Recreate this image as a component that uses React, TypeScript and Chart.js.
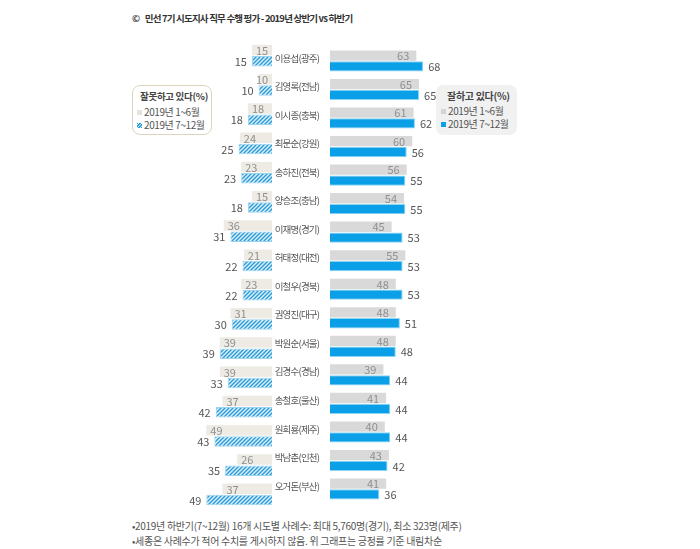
import React, { useEffect, useRef } from "react";
import { Chart, registerables } from "chart.js";

Chart.register(...registerables);

const names = [
  "이용섭(광주)", "김영록(전남)", "이시종(충북)", "최문순(강원)", "송하진(전북)", "양승조(충남)",
  "이재명(경기)", "허태정(대전)", "이철우(경북)", "권영진(대구)", "박원순(서울)", "김경수(경남)",
  "송철호(울산)", "원희룡(제주)", "박남춘(인천)", "오거돈(부산)",
];
const goodH1 = [63, 65, 61, 60, 56, 54, 45, 55, 48, 48, 48, 39, 41, 40, 43, 41];
const goodH2 = [68, 65, 62, 56, 55, 55, 53, 53, 53, 51, 48, 44, 44, 44, 42, 36];
const badH1 = [15, 10, 18, 24, 23, 15, 36, 21, 23, 31, 39, 39, 37, 49, 26, 37];
const badH2 = [15, 10, 18, 25, 23, 18, 31, 22, 22, 30, 39, 33, 42, 43, 35, 49];
const periodLabels = ["2019년 1~6월", "2019년 7~12월"];

const FONT = "'Noto Sans CJK KR', 'Noto Sans', sans-serif";

function makeHatch(): CanvasPattern | string {
  const c = document.createElement("canvas");
  c.width = 4;
  c.height = 4;
  const g = c.getContext("2d");
  if (!g) return "#5bb6e6";
  g.fillStyle = "#dcf0fa";
  g.fillRect(0, 0, 4, 4);
  g.strokeStyle = "#2b9bd8";
  g.lineWidth = 1.4;
  g.beginPath();
  g.moveTo(0, 4);
  g.lineTo(4, 0);
  g.moveTo(-1, 1);
  g.lineTo(1, -1);
  g.moveTo(3, 5);
  g.lineTo(5, 3);
  g.stroke();
  return g.createPattern(c, "repeat") || "#5bb6e6";
}

const tightTicks = {
  id: "tightTicks",
  beforeDraw(chart: any) {
    (chart.ctx as any).letterSpacing = "-0.8px";
  },
};

function valueLabelPlugin(side: "left" | "right") {
  return {
    id: "valueLabels_" + side,
    afterDatasetsDraw(chart: any) {
      const ctx = chart.ctx;
      ctx.save();
      (ctx as any).letterSpacing = "0px";
      ctx.font = `11px ${FONT}`;
      ctx.textBaseline = "middle";
      chart.data.datasets.forEach((ds: any, di: number) => {
        const meta = chart.getDatasetMeta(di);
        meta.data.forEach((el: any, i: number) => {
          const v = ds.data[i];
          const txt = String(v);
          const y = el.y + 0.5;
          if (side === "right") {
            if (di === 0) {
              ctx.fillStyle = "#8f8f8f";
              ctx.textAlign = "right";
              ctx.fillText(txt, el.x - 7, y);
            } else {
              ctx.fillStyle = "#555555";
              ctx.textAlign = "left";
              ctx.fillText(txt, el.x + 5, y);
            }
          } else {
            const left = Math.min(el.x, el.base);
            const right = Math.max(el.x, el.base);
            if (di === 0) {
              ctx.fillStyle = "#8f8f8f";
              ctx.textAlign = "left";
              ctx.fillText(txt, Math.min(left + 4, right - 16), y);
            } else {
              ctx.fillStyle = "#555555";
              ctx.textAlign = "right";
              ctx.fillText(txt, left - 5, y);
            }
          }
        });
      });
      ctx.restore();
    },
  };
}

const ROW_TOP = 41;
const AREA_H = 468;

export default function App() {
  const leftRef = useRef<HTMLCanvasElement>(null);
  const rightRef = useRef<HTMLCanvasElement>(null);

  useEffect(() => {
    document.body.style.margin = "0";
    const hatch = makeHatch();
    const common = {
      indexAxis: "y" as const,
      responsive: false,
      animation: false as const,
      plugins: { legend: { display: false }, tooltip: { enabled: false } },
    };

    const right = new Chart(rightRef.current as HTMLCanvasElement, {
      type: "bar",
      data: {
        labels: names,
        datasets: [
          {
            label: periodLabels[0],
            data: goodH1,
            backgroundColor: "#d9d9d9",
            borderWidth: 0,
            categoryPercentage: 0.76,
            barPercentage: 0.95,
          },
          {
            label: periodLabels[1],
            data: goodH2,
            backgroundColor: "#0a9fe6",
            borderColor: "#8ad4f4",
            borderWidth: 1,
            categoryPercentage: 0.76,
            barPercentage: 0.95,
          },
        ],
      },
      options: {
        ...common,
        layout: { padding: { left: 0, right: 30, top: 0, bottom: 0 } },
        scales: {
          x: { display: false, min: 0, max: 100 },
          y: {
            display: true,
            grid: { display: false },
            border: { display: false },
            ticks: {
              color: "#555555",
              font: { family: FONT, size: 9.5 },
              crossAlign: "center",
              padding: 0,
              labelOffset: -3,
            },
            afterFit: (scale: any) => {
              scale.width = 58;
            },
          },
        },
      },
      plugins: [tightTicks, valueLabelPlugin("right")],
    });

    const left = new Chart(leftRef.current as HTMLCanvasElement, {
      type: "bar",
      data: {
        labels: names,
        datasets: [
          {
            label: periodLabels[0],
            data: badH1,
            backgroundColor: "#edebe3",
            borderWidth: 0,
            categoryPercentage: 0.76,
            barPercentage: 0.95,
          },
          {
            label: periodLabels[1],
            data: badH2,
            backgroundColor: hatch as any,
            borderColor: "#9ad3ef",
            borderWidth: 1,
            categoryPercentage: 0.76,
            barPercentage: 0.95,
          },
        ],
      },
      options: {
        ...common,
        layout: { padding: { left: 38, right: 0, top: 0, bottom: 0 } },
        scales: {
          x: { display: false, min: 0, max: 100, reverse: true },
          y: { display: false },
        },
      },
      plugins: [valueLabelPlugin("left")],
    });

    return () => {
      right.destroy();
      left.destroy();
    };
  }, []);

  const abs = (l: number, t: number, extra: React.CSSProperties = {}): React.CSSProperties => ({
    position: "absolute",
    left: l,
    top: t,
    ...extra,
  });

  const textBase: React.CSSProperties = {
    fontFamily: FONT,
    whiteSpace: "nowrap",
    lineHeight: 1,
  };

  return (
    <div
      style={{
        position: "absolute",
        left: 0,
        top: 0,
        width: 700,
        height: 549,
        background: "#ffffff",
        overflow: "hidden",
      }}
    >
      <div style={abs(132, 14, { ...textBase, fontSize: 9.5, color: "#333", fontWeight: 600, letterSpacing: -0.8 })}>
        ©&nbsp;&nbsp;&nbsp; 민선 7기 시도지사 직무 수행 평가 - 2019년 상반기 vs 하반기
      </div>

      <canvas ref={leftRef} width={172} height={AREA_H} style={abs(100, ROW_TOP, { display: "block" })} />
      <canvas ref={rightRef} width={225} height={AREA_H} style={abs(272, ROW_TOP, { display: "block" })} />

      {/* left legend */}
      <div
        style={abs(132, 85, {
          width: 80,
          height: 50,
          boxSizing: "border-box",
          border: "1.5px solid #dcd4be",
          borderRadius: 8,
          background: "#fff",
        })}
      >
        <div style={abs(7, 6, { ...textBase, fontSize: 9.5, fontWeight: 700, color: "#444", letterSpacing: -0.3 })}>
          잘못하고 있다(%)
        </div>
        <div style={abs(4, 21, { ...textBase, fontSize: 10, color: "#555", display: "flex", alignItems: "center", letterSpacing: -0.4 })}>
          <span style={{ display: "inline-block", width: 5, height: 5, background: "#e6e3da", marginRight: 2 }} />
          {periodLabels[0]}
        </div>
        <div style={abs(4, 34, { ...textBase, fontSize: 10, color: "#555", display: "flex", alignItems: "center", letterSpacing: -0.4 })}>
          <span
            style={{
              display: "inline-block",
              width: 5,
              height: 5,
              marginRight: 2,
              background: "repeating-linear-gradient(135deg, #2b9bd8 0 1px, #dcf0fa 1px 2px)",
            }}
          />
          {periodLabels[1]}
        </div>
      </div>

      {/* right legend */}
      <div
        style={abs(436, 85, {
          width: 81,
          height: 50,
          borderRadius: 7,
          background: "#f1f1f1",
        })}
      >
        <div style={abs(11, 6, { ...textBase, fontSize: 10, fontWeight: 700, color: "#444", letterSpacing: -0.3 })}>
          잘하고 있다(%)
        </div>
        <div style={abs(5, 21, { ...textBase, fontSize: 10, color: "#555", display: "flex", alignItems: "center", letterSpacing: -0.4 })}>
          <span style={{ display: "inline-block", width: 5, height: 5, background: "#d4d4d4", marginRight: 2 }} />
          {periodLabels[0]}
        </div>
        <div style={abs(5, 34, { ...textBase, fontSize: 10, color: "#555", display: "flex", alignItems: "center", letterSpacing: -0.4 })}>
          <span style={{ display: "inline-block", width: 5, height: 5, background: "#0a9fe6", marginRight: 2 }} />
          {periodLabels[1]}
        </div>
      </div>

      <div style={abs(132, 521, { ...textBase, fontSize: 10, color: "#555", letterSpacing: -0.3 })}>
        •2019년 하반기(7~12월) 16개 시도별 사례수: 최대 5,760명(경기), 최소 323명(제주)
      </div>
      <div style={abs(132, 536, { ...textBase, fontSize: 10, color: "#555", letterSpacing: -0.3 })}>
        •세종은 사례수가 적어 수치를 게시하지 않음. 위 그래프는 긍정률 기준 내림차순
      </div>
    </div>
  );
}
